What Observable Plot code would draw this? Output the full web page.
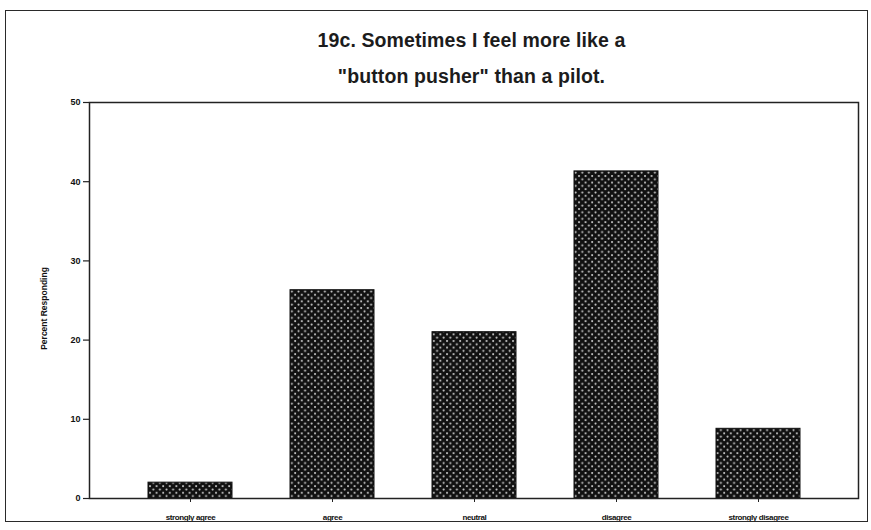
<!DOCTYPE html>
<html><head><meta charset="utf-8">
<script src="https://cdn.jsdelivr.net/npm/d3@7"></script>
<script src="https://cdn.jsdelivr.net/npm/@observablehq/plot@0.6"></script>
<style>
body{margin:0;background:#fff;font-family:"Liberation Sans",Arial,sans-serif;}
#wrap{position:relative;width:871px;height:530px;overflow:hidden;background:#fff}
#border{position:absolute;left:5px;top:10px;width:863px;height:512px;border:1.5px solid #2a2a2a;box-sizing:border-box;pointer-events:none}
#title{height:92px;box-sizing:border-box;padding-top:22px;margin-left:87px;width:769px;text-align:center;font-weight:bold;font-size:19.5px;line-height:36px;color:#1c1c1c;letter-spacing:0.1px;overflow:visible}
#chart svg{display:block}
</style></head>
<body>
<div id="wrap">
  <div id="title"><div>19c. Sometimes I feel more like a</div><div>"button pusher" than a pilot.</div></div>
  <div id="chart"></div>
  <div id="border"></div>
</div>
<script>
const categories = ["strongly agree", "agree", "neutral", "disagree", "strongly disagree"];
const percents = [2.0, 26.3, 21.0, 41.3, 8.8];
const yTicks = [0, 10, 20, 30, 40, 50];
const yLabel = "Percent Responding";

const data = categories.map((c, i) => ({cat: c, pct: percents[i]}));

const chart = Plot.plot({
  width: 871,
  height: 438,
  marginLeft: 89,
  marginRight: 13,
  marginTop: 10,
  marginBottom: 32,
  style: {fontFamily: "'Liberation Sans', Arial, sans-serif", color: "#111", background: "transparent"},
  x: {domain: categories, padding: 0.41, label: null},
  y: {domain: [0, 50], label: null},
  marks: [
    Plot.barY(data, {x: "cat", y: "pct", fill: "url(#dots)", stroke: "#111", strokeWidth: 1}),
    Plot.frame({stroke: "#222", strokeWidth: 1.5}),
    Plot.axisY({ticks: yTicks, tickSize: 6, tickPadding: 3, fontSize: 9, fontWeight: "bold", label: null, stroke: "#222", strokeWidth: 1.2}),
    Plot.axisX({tickSize: 4, tickPadding: 12, fontSize: 8, fontWeight: "bold", label: null, stroke: "#222"}),
    Plot.text([yLabel], {text: d => d, frameAnchor: "left", textAnchor: "middle", dx: -45, dy: 8, rotate: -90, fontSize: 8.5, fontWeight: "bold", fill: "#111"})
  ]
});

const svg = d3.select(chart);
const defs = svg.insert("defs", ":first-child");
const pat = defs.append("pattern").attr("id", "dots").attr("patternUnits", "userSpaceOnUse")
  .attr("width", 6.6).attr("height", 6.6);
pat.append("rect").attr("width", 6.6).attr("height", 6.6).attr("fill", "#111");
pat.append("circle").attr("cx", 1.5).attr("cy", 1.5).attr("r", 1.05).attr("fill", "#cfcfcf");
pat.append("circle").attr("cx", 4.8).attr("cy", 4.8).attr("r", 1.05).attr("fill", "#cfcfcf");
svg.selectAll('g[aria-label="x-axis tick label"] text').style("letter-spacing", "-0.4px");

document.getElementById("chart").appendChild(chart);
</script>
</body></html>
